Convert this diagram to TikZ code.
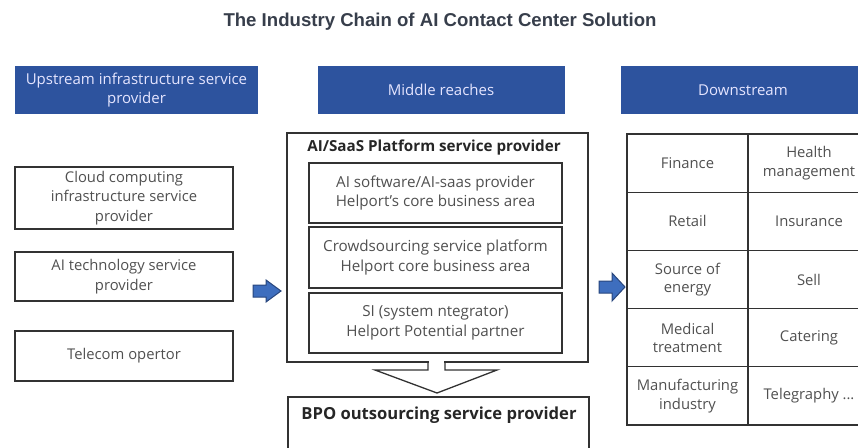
\documentclass[tikz,border=0pt]{standalone}
\usepackage{fontspec}
\setmainfont{Open Sans}
\newfontfamily\titlefont{Liberation Sans}
\definecolor{hdrblue}{RGB}{45,83,158}
\definecolor{arrblue}{RGB}{62,110,190}
\definecolor{arredge}{RGB}{40,70,125}
\definecolor{txtgray}{RGB}{80,80,80}
\definecolor{linegray}{RGB}{50,50,50}
\definecolor{titlegray}{RGB}{55,62,75}
\tikzset{
  hdr/.style={fill=hdrblue, draw=none, text=white!90!blue, align=center, font=\fontsize{15}{19.5}\selectfont, minimum height=48pt, inner sep=0pt},
  lbox/.style={draw=linegray, line width=1.3pt, text=txtgray, align=center, font=\fontsize{14.8}{19.5}\selectfont, inner sep=0pt},
  ibox/.style={draw=linegray, line width=1.3pt, text=txtgray, align=center, font=\fontsize{15.2}{19.5}\selectfont, inner sep=0pt, minimum width=253pt},
  cell/.style={text=txtgray, align=center, font=\fontsize{14.8}{18.5}\selectfont, inner sep=0pt},
  boldlbl/.style={text=black!85, font=\bfseries\fontsize{15.2}{18}\selectfont, inner sep=0pt},
  blockarr/.style={fill=arrblue, draw=arredge, line width=1pt, line join=miter},
  outline/.style={draw=linegray, line width=1.3pt}
}
\begin{document}
\begin{tikzpicture}[x=1pt,y=-1pt]
\useasboundingbox (0,0) rectangle (858,447);
\clip (0,0) rectangle (858,447);
% title
\node[font=\titlefont\bfseries\fontsize{18.6}{21}\selectfont, text=titlegray, inner sep=0pt] (title) at (440,22) {The Industry Chain of AI Contact Center Solution};
% headers
\node[hdr, minimum width=243pt] (h1) at (136.5,90) {Upstream infrastructure service\\provider};
\node[hdr, minimum width=247pt] (h2) at (441,90) {Middle reaches};
\node[hdr, minimum width=244pt] (h3) at (743,90) {Downstream};
% left column
\node[lbox, minimum width=218pt, minimum height=62pt] (cloud) at (124,198) {Cloud computing\\infrastructure service\\provider};
\node[lbox, minimum width=218pt, minimum height=49pt] (aitech) at (124,276.5) {AI technology service\\provider};
\node[lbox, minimum width=218pt, minimum height=50pt] (tele) at (124,356) {Telecom opertor};
% middle
\node[outline, minimum width=301pt, minimum height=229pt, inner sep=0pt] (plat) at (437.5,247.5) {};
\node[boldlbl] (plattitle) at (434,148) {AI/SaaS Platform service provider};
\node[ibox, minimum height=60pt] (sw) at (435.5,193) {AI software/AI-saas provider\\Helport's core business area};
\node[ibox, minimum height=61pt] (crowd) at (435.5,257.5) {Crowdsourcing service platform\\Helport core business area};
\node[ibox, minimum height=60pt] (si) at (435.5,323) {SI (system ntegrator)\\Helport Potential partner};
\node[outline, minimum width=301pt, minimum height=66pt, inner sep=0pt] (bpo) at (438.5,430) {};
\node[boldlbl, font=\bfseries\fontsize{16.6}{19}\selectfont] (bpotitle) at (439,415) {BPO outsourcing service provider};
% down arrow (outline) from platform to BPO
\fill[white] (428.6,358) rectangle (444.4,366);
\draw[outline, line join=miter] (428,362) -- (428,370) -- (375,370) -- (437,393) -- (497,370) -- (445,370) -- (445,362);
% table
\draw[outline] (627,134) rectangle (870,425);
\draw[outline] (748,134) -- (748,425);
\foreach \yy in {192.2,250.4,308.6,366.8} \draw[outline] (627,\yy) -- (870,\yy);
\node[cell] (c11) at (687.5,163.1) {Finance};
\node[cell] (c12) at (809,163.1) {Health\\management};
\node[cell] (c21) at (687.5,221.3) {Retail};
\node[cell] (c22) at (809,221.3) {Insurance};
\node[cell] (c31) at (687.5,279.5) {Source of\\energy};
\node[cell] (c32) at (809,279.5) {Sell};
\node[cell] (c41) at (687.5,337.7) {Medical\\treatment};
\node[cell] (c42) at (809,337.7) {Catering};
\node[cell] (c51) at (687.5,395.9) {Manufacturing\\industry};
\node[cell] (c52) at (809,395.9) {Telegraphy ...};
% block arrows
\draw[blockarr] (253,285) -- (266,285) -- (266,280) -- (281,291) -- (266,302) -- (266,297) -- (253,297) -- cycle;
\draw[blockarr] (599,281) -- (612,281) -- (612,273) -- (625,287) -- (612,301) -- (612,293) -- (599,293) -- cycle;
\end{tikzpicture}
\end{document}
